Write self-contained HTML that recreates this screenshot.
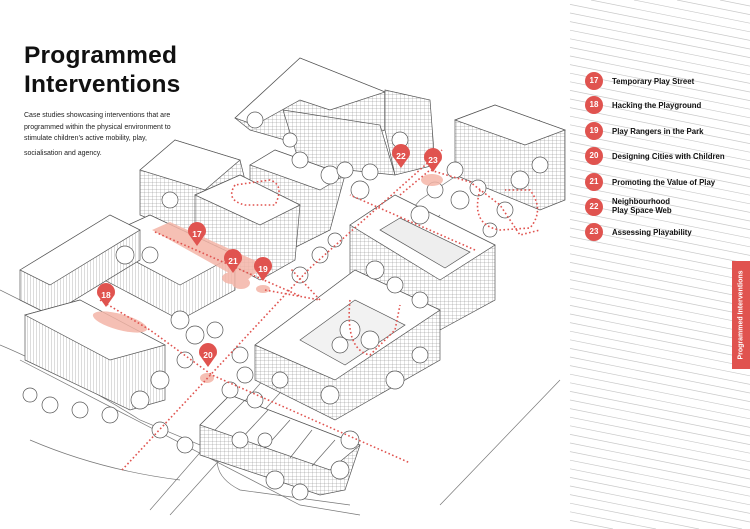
<!DOCTYPE html>
<html><head><meta charset="utf-8"><style>
html,body{margin:0;padding:0;background:#fff;width:750px;height:529px;overflow:hidden;}
#wrap{position:relative;width:750px;height:529px;overflow:hidden;background:#fff;font-family:"Liberation Sans",sans-serif;}
h1{position:absolute;left:24px;top:41px;margin:0;font-size:24.5px;line-height:29px;font-weight:bold;color:#111;letter-spacing:0.2px;}
.intro{position:absolute;left:24px;top:110px;font-size:7px;line-height:11.5px;color:#222;width:165px;}
.leg{position:absolute;left:585px;font-size:7.8px;font-weight:bold;color:#111;line-height:9px;}
.leg .n{position:absolute;left:0;width:18px;height:18px;border-radius:50%;background:#e0534f;color:#fff;text-align:center;line-height:18px;font-size:8px;}
.leg .t{position:absolute;left:27px;white-space:nowrap;}
.tab{position:absolute;left:732px;top:261px;width:18px;height:108px;background:#e0534f;overflow:hidden;}
.tab span{position:absolute;left:50%;top:50%;transform:translate(-50%,-50%) rotate(-90deg);color:#fff;font-size:7px;font-weight:bold;white-space:nowrap;}
svg{position:absolute;left:0;top:0;}
</style></head><body><div id="wrap">
<svg width="750" height="529" viewBox="0 0 750 529">
<defs>
<pattern id="hat" width="3" height="4" patternUnits="userSpaceOnUse"><rect width="3" height="4" fill="#fff"/><path d="M0 0V4" stroke="#888" stroke-width="0.6"/></pattern>
<pattern id="grid" width="4" height="3.5" patternUnits="userSpaceOnUse"><rect width="4" height="3.5" fill="#fff"/><path d="M0 0H4M0 0V3.5" stroke="#888" stroke-width="0.5"/></pattern>
</defs>
<g stroke="#c9c9c9" stroke-width="0.7" id="stripes"></g>
<g fill="none" stroke="#777" stroke-width="0.7">
<path d="M20 360 L300 505 L360 515"/>
<path d="M0 290 L120 350"/>
<path d="M440 505 L560 380"/>
<path d="M150 510 L420 200 L540 120"/>
<path d="M170 515 L440 215"/>
<path d="M230 430 Q200 470 240 490 L350 505"/>
<path d="M30 440 Q100 470 180 480"/>
<path d="M0 345 Q60 370 140 420 L260 470"/>
</g>
<g stroke="#555" stroke-width="0.7">
<polygon points="235,118 300,58 385,92 385,130 320,150 250,130" fill="url(#grid)"/>
<polygon points="235,118 300,58 385,92 330,110 300,100 255,125" fill="#fff"/>
<polygon points="385,90 430,100 435,165 395,175 385,130" fill="url(#grid)"/>
<polygon points="283,110 380,125 395,175 300,165" fill="url(#grid)"/>
<polygon points="455,120 495,105 565,130 565,200 540,210 455,175" fill="url(#grid)"/>
<polygon points="455,120 495,105 565,130 525,145" fill="#fff"/>
<polygon points="250,165 275,150 345,175 330,230 290,250 250,225" fill="url(#grid)"/>
<polygon points="250,165 275,150 345,175 320,190" fill="#fff"/>
<polygon points="140,170 175,140 240,160 250,200 200,240 140,215" fill="url(#grid)"/>
<polygon points="140,170 175,140 240,160 205,190" fill="#fff"/>
<polygon points="195,195 240,175 300,205 295,260 260,280 195,245" fill="url(#grid)"/>
<polygon points="195,195 240,175 300,205 260,225" fill="#fff"/>
<polygon points="95,240 150,215 235,255 235,290 180,320 95,275" fill="url(#hat)"/>
<polygon points="95,240 150,215 235,255 180,285" fill="#fff"/>
<polygon points="20,270 110,215 140,230 140,260 50,315 20,300" fill="url(#hat)"/>
<polygon points="20,270 110,215 140,230 50,285" fill="#fff"/>
<polygon points="350,225 395,195 495,245 495,300 440,330 350,280" fill="url(#grid)"/>
<polygon points="350,225 395,195 495,245 440,280" fill="#fff"/>
<polygon points="380,230 400,218 470,252 445,268" fill="#eee"/>
<polygon points="255,345 355,270 440,310 440,360 335,420 255,380" fill="url(#grid)"/>
<polygon points="255,345 355,270 440,310 335,380" fill="#fff"/>
<polygon points="300,340 355,300 405,325 345,365" fill="#f2f2f2"/>
<polygon points="25,315 80,300 165,345 165,400 130,410 25,360" fill="url(#hat)"/>
<polygon points="25,315 80,300 165,345 110,360" fill="#fff"/>
<polygon points="200,425 230,395 360,445 345,490 320,495 200,455" fill="url(#grid)"/>
<polygon points="200,425 230,395 360,445 330,470" fill="#fff"/>
<g stroke="#666" fill="none"><path d="M215 430L245 400M240 440L268 410M265 448L290 420M290 458L312 430M312 466L335 440"/></g>
</g>
<g fill="#fff" stroke="#555" stroke-width="0.7">
<circle cx="330" cy="175" r="9"/><circle cx="345" cy="170" r="8"/><circle cx="300" cy="160" r="8"/><circle cx="255" cy="120" r="8"/><circle cx="290" cy="140" r="7"/>
<circle cx="370" cy="172" r="8"/><circle cx="360" cy="190" r="9"/><circle cx="420" cy="215" r="9"/><circle cx="435" cy="190" r="8"/><circle cx="460" cy="200" r="9"/><circle cx="478" cy="188" r="8"/>
<circle cx="455" cy="170" r="8"/><circle cx="520" cy="180" r="9"/><circle cx="540" cy="165" r="8"/>
<circle cx="170" cy="200" r="8"/><circle cx="125" cy="255" r="9"/><circle cx="150" cy="255" r="8"/><circle cx="180" cy="320" r="9"/><circle cx="195" cy="335" r="9"/><circle cx="215" cy="330" r="8"/>
<circle cx="185" cy="360" r="8"/><circle cx="160" cy="380" r="9"/><circle cx="140" cy="400" r="9"/><circle cx="110" cy="415" r="8"/><circle cx="80" cy="410" r="8"/><circle cx="50" cy="405" r="8"/><circle cx="30" cy="395" r="7"/>
<circle cx="160" cy="430" r="8"/><circle cx="185" cy="445" r="8"/><circle cx="230" cy="390" r="8"/><circle cx="255" cy="400" r="8"/>
<circle cx="240" cy="440" r="8"/><circle cx="265" cy="440" r="7"/><circle cx="275" cy="480" r="9"/><circle cx="300" cy="492" r="8"/><circle cx="340" cy="470" r="9"/><circle cx="350" cy="440" r="9"/>
<circle cx="245" cy="375" r="8"/><circle cx="240" cy="355" r="8"/><circle cx="280" cy="380" r="8"/><circle cx="330" cy="395" r="9"/><circle cx="395" cy="380" r="9"/><circle cx="420" cy="355" r="8"/>
<circle cx="350" cy="330" r="10"/><circle cx="370" cy="340" r="9"/><circle cx="340" cy="345" r="8"/>
<circle cx="375" cy="270" r="9"/><circle cx="395" cy="285" r="8"/><circle cx="420" cy="300" r="8"/>
<circle cx="300" cy="275" r="8"/><circle cx="320" cy="255" r="8"/><circle cx="335" cy="240" r="7"/>
<circle cx="505" cy="210" r="8"/><circle cx="490" cy="230" r="7"/><circle cx="400" cy="140" r="8"/>
</g>
<g fill="#f4b5a7" opacity="0.85">
<polygon points="152,230 170,222 265,265 245,282"/>
<ellipse cx="120" cy="322" rx="28" ry="8" transform="rotate(15 120 322)"/>
<ellipse cx="232" cy="278" rx="10" ry="6"/>
<ellipse cx="241" cy="283" rx="9" ry="6"/>
<ellipse cx="263" cy="289" rx="7" ry="4"/>
<ellipse cx="207" cy="378" rx="7" ry="5"/>
<ellipse cx="432" cy="180" rx="11" ry="6"/>
</g>
<g fill="none" stroke="#e0534f" stroke-width="1.6" stroke-dasharray="1.6 2.4">
<path d="M122 470 L310 268 L442 150"/>
<path d="M100 300 L150 330 L212 375 L410 463"/>
<path d="M155 232 L300 296"/>
<path d="M400 195 L430 170 L470 182 L500 205 L520 235 L540 230"/>
<path d="M480 190 Q470 225 500 230 L530 228 Q545 210 530 190 L505 190"/>
<path d="M235 185 Q225 200 245 205 L275 205 Q285 185 270 180 Z"/>
<path d="M265 290 L320 300 L290 268"/>
<path d="M350 300 Q345 350 370 355 L395 330 L400 305"/>
<path d="M475 250 L350 195"/>
</g>
<g font-family="Liberation Sans,sans-serif" font-weight="bold" font-size="8.5" fill="#fff" text-anchor="middle">
<g transform="translate(197,235)"><path d="M-8.5 -1 A9 9 0 1 1 8.5 -1 L0 11 Z" fill="#e0534f"/><text y="2">17</text></g>
<g transform="translate(106,296)"><path d="M-8.5 -1 A9 9 0 1 1 8.5 -1 L0 11 Z" fill="#e0534f"/><text y="2">18</text></g>
<g transform="translate(263,270)"><path d="M-8.5 -1 A9 9 0 1 1 8.5 -1 L0 11 Z" fill="#e0534f"/><text y="2">19</text></g>
<g transform="translate(208,356)"><path d="M-8.5 -1 A9 9 0 1 1 8.5 -1 L0 11 Z" fill="#e0534f"/><text y="2">20</text></g>
<g transform="translate(233,262)"><path d="M-8.5 -1 A9 9 0 1 1 8.5 -1 L0 11 Z" fill="#e0534f"/><text y="2">21</text></g>
<g transform="translate(401,157)"><path d="M-8.5 -1 A9 9 0 1 1 8.5 -1 L0 11 Z" fill="#e0534f"/><text y="2">22</text></g>
<g transform="translate(433,161)"><path d="M-8.5 -1 A9 9 0 1 1 8.5 -1 L0 11 Z" fill="#e0534f"/><text y="2">23</text></g>
</g>
</svg>
<h1>Programmed<br>Interventions</h1>
<div class="intro">Case studies showcasing interventions that are programmed within the physical environment to stimulate children’s active mobility, play,<br><span style="line-height:17px">socialisation and agency.</span></div>
<div class="leg" style="top:72px"><span class="n">17</span><span class="t" style="top:5px">Temporary Play Street</span></div>
<div class="leg" style="top:96px"><span class="n">18</span><span class="t" style="top:5px">Hacking the Playground</span></div>
<div class="leg" style="top:122px"><span class="n">19</span><span class="t" style="top:5px">Play Rangers in the Park</span></div>
<div class="leg" style="top:147px"><span class="n">20</span><span class="t" style="top:5px">Designing Cities with Children</span></div>
<div class="leg" style="top:173px"><span class="n">21</span><span class="t" style="top:5px">Promoting the Value of Play</span></div>
<div class="leg" style="top:198px"><span class="n">22</span><span class="t" style="top:-1px">Neighbourhood<br>Play Space Web</span></div>
<div class="leg" style="top:223px"><span class="n">23</span><span class="t" style="top:5px">Assessing Playability</span></div>
<div class="tab"><span>Programmed Interventions</span></div>
<script>
var g=document.getElementById('stripes');var s='';var k=0.2;
for(var y=-30;y<529;y+=8.6){
 var x1=570,y1=y,x2=750,y2=y+36;
 if(y1<0){x1=570+(-y1)/k;y1=0;}
 if(y2>529){x2=570+(529-y)/k;y2=529;}
 s+='<line x1="'+x1+'" y1="'+y1+'" x2="'+x2+'" y2="'+y2+'"/>';
}
g.innerHTML=s;
</script>
</div></body></html>
